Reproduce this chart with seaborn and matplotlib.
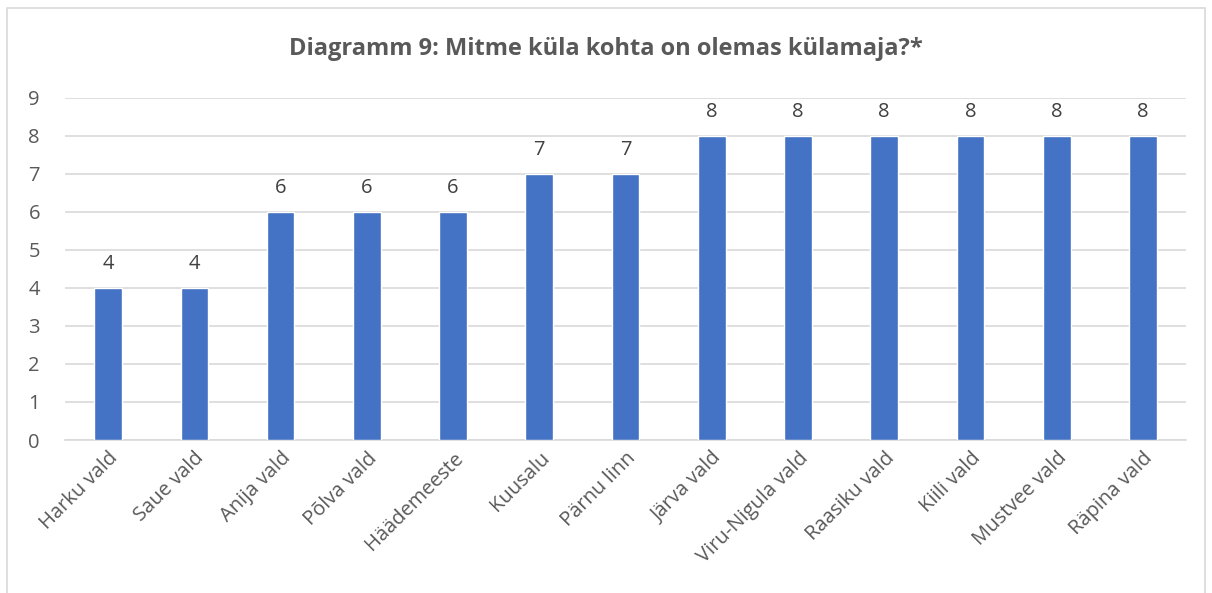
import matplotlib
matplotlib.use("Agg")
import matplotlib.pyplot as plt
import seaborn as sns
import pandas as pd
from matplotlib.patches import Rectangle

# chart data
categories = ["Harku vald", "Saue vald", "Anija vald", "Põlva vald", "Häädemeeste",
              "Kuusalu", "Pärnu linn", "Järva vald", "Viru-Nigula vald", "Raasiku vald",
              "Kiili vald", "Mustvee vald", "Räpina vald"]
values = [4, 4, 6, 6, 6, 7, 7, 8, 8, 8, 8, 8, 8]
y_ticks = list(range(0, 10))
title = "Diagramm 9: Mitme küla kohta on olemas külamaja?*"

df = pd.DataFrame({"vald": categories, "kylad": values})

sns.set_style("white")
plt.rcParams["font.family"] = ["Open Sans", "DejaVu Sans"]

fig = plt.figure(figsize=(12.12, 5.93), dpi=100)
ax = fig.add_axes([0.0536, 0.258, 0.925, 0.577])

sns.barplot(data=df, x="vald", y="kylad", color="#4472C4", width=0.32,
            saturation=1, ax=ax, zorder=3)

for p, v in zip(ax.patches, values):
    ax.text(p.get_x() + p.get_width() / 2, v + 0.63, str(v), ha="center",
            va="center", fontsize=14.5, color="#404040")

ax.set_ylim(0, 9)
ax.set_yticks(y_ticks)
ax.set_xlim(-0.5, len(categories) - 0.5)
ax.yaxis.grid(True, color="#D9D9D9", linewidth=1.2, zorder=0)
ax.set_axisbelow(True)
for s in ["top", "right", "left"]:
    ax.spines[s].set_visible(False)
ax.spines["bottom"].set_color("#D9D9D9")
ax.spines["bottom"].set_linewidth(1.2)
ax.tick_params(axis="both", length=0, labelsize=14.5, labelcolor="#595959")
ax.tick_params(axis="y", pad=18)
ax.tick_params(axis="x", pad=6)
ax.set_xticks(range(len(categories)))
ax.set_xticklabels(categories, rotation=45, ha="right", rotation_mode="anchor")
ax.set_xlabel("")
ax.set_ylabel("")

fig.text(0.5, 0.918, title, ha="center", va="center", fontsize=17,
         fontweight="bold", color="#595959")

fig.patches.append(Rectangle((0.006, -0.02), 0.988, 1.006, transform=fig.transFigure,
                             fill=False, edgecolor="#D9D9D9", linewidth=1.2))

fig.savefig("out.png", dpi=100)
